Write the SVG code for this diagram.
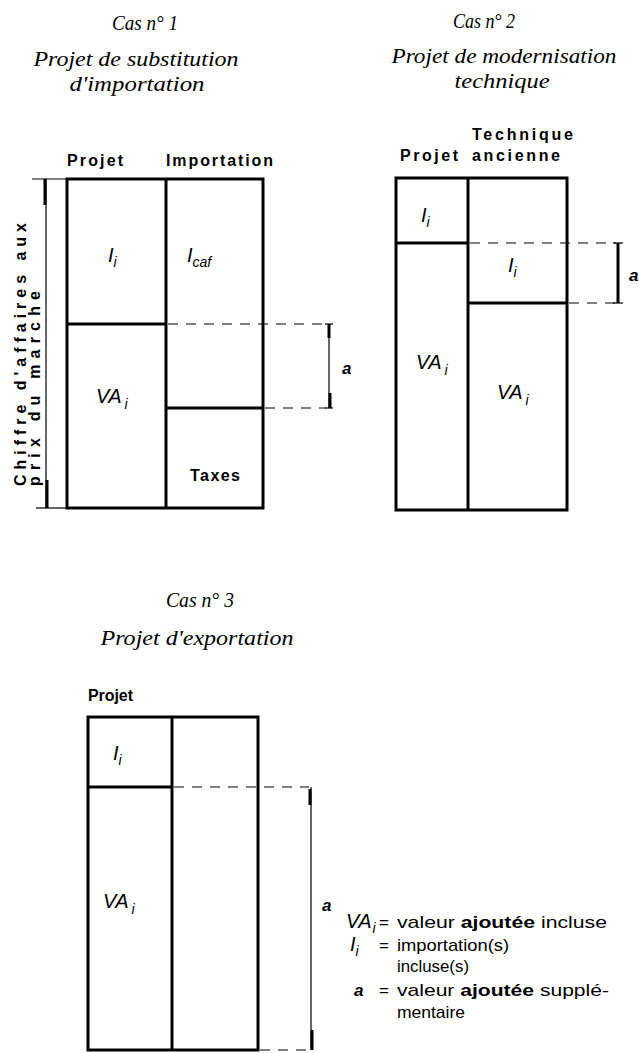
<svg xmlns="http://www.w3.org/2000/svg" width="639" height="1053" viewBox="0 0 639 1053">
<style>
.bg{fill:#fff}
.box{fill:none;stroke:#000;stroke-width:3}
.div{stroke:#000;stroke-width:3;fill:none}
.dash{stroke:#000;stroke-width:1.2;stroke-dasharray:10 8;fill:none}
.thin{stroke:#000;stroke-width:1.2;fill:none}
.thick{stroke:#000;stroke-width:3;fill:none}
.title{font-family:"Liberation Serif",serif;font-style:italic;font-size:21px;fill:#000}
.hdr{font-family:"Liberation Sans",Arial,sans-serif;font-size:16px;font-weight:bold;fill:#000}
.lbl{font-family:"Liberation Sans",Arial,sans-serif;font-style:italic;font-size:20px;fill:#000}
.sub{font-size:14px}
.leg{font-family:"Liberation Sans",Arial,sans-serif;font-size:17px;fill:#000}
.a{font-family:"Liberation Sans",Arial,sans-serif;font-style:italic;font-weight:bold;font-size:17px;fill:#000}
</style>
<rect class="bg" x="0" y="0" width="639" height="1053"/>

<g id="case1">
  <text class="title" x="145" y="30" text-anchor="middle" textLength="66" lengthAdjust="spacingAndGlyphs">Cas n° 1</text>
  <text class="title" x="136" y="66" text-anchor="middle" textLength="205" lengthAdjust="spacingAndGlyphs">Projet de substitution</text>
  <text class="title" x="137" y="91" text-anchor="middle" textLength="135" lengthAdjust="spacingAndGlyphs">d'importation</text>
  <text class="hdr" x="67" y="166" textLength="56" lengthAdjust="spacing">Projet</text>
  <text class="hdr" x="166" y="166" textLength="107" lengthAdjust="spacing">Importation</text>
  <rect class="box" x="67" y="179" width="196" height="329"/>
  <line class="div" x1="166" y1="179" x2="166" y2="508"/>
  <line class="div" x1="67" y1="324" x2="166" y2="324"/>
  <line class="div" x1="166" y1="408" x2="263" y2="408"/>
  <text class="lbl" x="108" y="262">I<tspan class="sub" dy="5">i</tspan></text>
  <text class="lbl" x="187" y="262">I<tspan class="sub" dy="5" font-size="17">caf</tspan></text>
  <text class="lbl" x="96" y="403">VA<tspan class="sub" dx="3" dy="6">i</tspan></text>
  <text class="hdr" x="215" y="481" text-anchor="middle" textLength="50" lengthAdjust="spacing">Taxes</text>
  <g id="dim1">
    <line class="thin" x1="32" y1="179" x2="67" y2="179"/>
    <line class="thin" x1="36" y1="508" x2="67" y2="508"/>
    <line class="thin" x1="46" y1="179" x2="46" y2="508"/>
    <line class="thick" x1="45" y1="179" x2="45" y2="205"/>
    <line class="thick" x1="47" y1="480" x2="47" y2="508"/>
    <text class="hdr" transform="translate(26,486) rotate(-90)" textLength="263" lengthAdjust="spacing" font-size="20">Chiffre d'affaires aux</text>
    <text class="hdr" transform="translate(40,486) rotate(-90)" textLength="195" lengthAdjust="spacing" font-size="20">prix du marche</text>
  </g>
  <g id="a1">
    <line class="dash" x1="168" y1="324" x2="326" y2="324"/>
    <line class="dash" x1="265" y1="408" x2="326" y2="408"/>
    <line class="thin" x1="329" y1="324" x2="329" y2="408"/>
    <line class="thick" x1="329" y1="324" x2="329" y2="338"/>
    <line class="thick" x1="330" y1="393" x2="330" y2="408"/>
    <line class="thin" x1="325" y1="324" x2="333" y2="324"/>
    <line class="thin" x1="325" y1="408" x2="333" y2="408"/>
    <text class="a" x="342" y="374">a</text>
  </g>
</g>

<g id="case2">
  <text class="title" x="484" y="28" text-anchor="middle" textLength="62" lengthAdjust="spacingAndGlyphs">Cas n° 2</text>
  <text class="title" x="504" y="63" text-anchor="middle" textLength="225" lengthAdjust="spacingAndGlyphs">Projet de modernisation</text>
  <text class="title" x="502" y="88" text-anchor="middle" textLength="95" lengthAdjust="spacingAndGlyphs">technique</text>
  <text class="hdr" x="472" y="140" textLength="101" lengthAdjust="spacing">Technique</text>
  <text class="hdr" x="472" y="161" textLength="88" lengthAdjust="spacing">ancienne</text>
  <text class="hdr" x="400" y="161" textLength="58" lengthAdjust="spacing">Projet</text>
  <rect class="box" x="396" y="178" width="171" height="332"/>
  <line class="div" x1="468" y1="178" x2="468" y2="510"/>
  <line class="div" x1="396" y1="243" x2="468" y2="243"/>
  <line class="div" x1="468" y1="303" x2="567" y2="303"/>
  <text class="lbl" x="421" y="222">I<tspan class="sub" dy="5">i</tspan></text>
  <text class="lbl" x="508" y="272">I<tspan class="sub" dy="5">i</tspan></text>
  <text class="lbl" x="416" y="369">VA<tspan class="sub" dx="3" dy="6">i</tspan></text>
  <text class="lbl" x="497" y="399">VA<tspan class="sub" dx="3" dy="6">i</tspan></text>
  <g id="a2">
    <line class="dash" x1="470" y1="243" x2="616" y2="243"/>
    <line class="dash" x1="569" y1="303" x2="616" y2="303"/>
    <line class="thick" x1="618" y1="243" x2="618" y2="303" stroke-width="2.2"/>
    <line class="thin" x1="613" y1="243" x2="623" y2="243"/>
    <line class="thin" x1="613" y1="303" x2="623" y2="303"/>
    <text class="a" x="629" y="281">a</text>
  </g>
</g>

<g id="case3">
  <text class="title" x="200" y="607" text-anchor="middle" textLength="68" lengthAdjust="spacingAndGlyphs">Cas n° 3</text>
  <text class="title" x="197" y="645" text-anchor="middle" textLength="193" lengthAdjust="spacingAndGlyphs">Projet d'exportation</text>
  <text class="hdr" x="88" y="701" textLength="45" lengthAdjust="spacing">Projet</text>
  <rect class="box" x="88" y="717" width="170" height="333"/>
  <line class="div" x1="172" y1="717" x2="172" y2="1050"/>
  <line class="div" x1="88" y1="787" x2="172" y2="787"/>
  <text class="lbl" x="113" y="760">I<tspan class="sub" dy="5">i</tspan></text>
  <text class="lbl" x="103" y="908">VA<tspan class="sub" dx="3" dy="6">i</tspan></text>
  <g id="a3">
    <line class="dash" x1="174" y1="787" x2="309" y2="787"/>
    <line class="dash" x1="260" y1="1050" x2="309" y2="1050"/>
    <line class="thin" x1="311" y1="787" x2="311" y2="1050"/>
    <line class="thick" x1="310" y1="789" x2="310" y2="805"/>
    <line class="thick" x1="312" y1="1030" x2="312" y2="1050"/>
    <text class="a" x="322" y="911">a</text>
  </g>
</g>

<g id="legend">
  <text class="lbl" x="346" y="928" font-size="18">VA<tspan class="sub" dx="1" dy="5" font-size="13">i</tspan></text>
  <text class="leg" x="379" y="928">=</text>
  <text class="leg" x="397" y="928" textLength="210" lengthAdjust="spacingAndGlyphs">valeur <tspan font-weight="bold">ajoutée</tspan> incluse</text>
  <text class="lbl" x="350" y="951" font-size="18">I<tspan class="sub" dy="5" font-size="13">i</tspan></text>
  <text class="leg" x="379" y="951">=</text>
  <text class="leg" x="397" y="951" textLength="112" lengthAdjust="spacingAndGlyphs">importation(s)</text>
  <text class="leg" x="397" y="972" textLength="72" lengthAdjust="spacingAndGlyphs">incluse(s)</text>
  <text class="a" x="354" y="996">a</text>
  <text class="leg" x="379" y="996">=</text>
  <text class="leg" x="397" y="996" textLength="212" lengthAdjust="spacingAndGlyphs">valeur <tspan font-weight="bold">ajoutée</tspan> supplé-</text>
  <text class="leg" x="397" y="1018" textLength="68" lengthAdjust="spacingAndGlyphs">mentaire</text>
</g>
</svg>
